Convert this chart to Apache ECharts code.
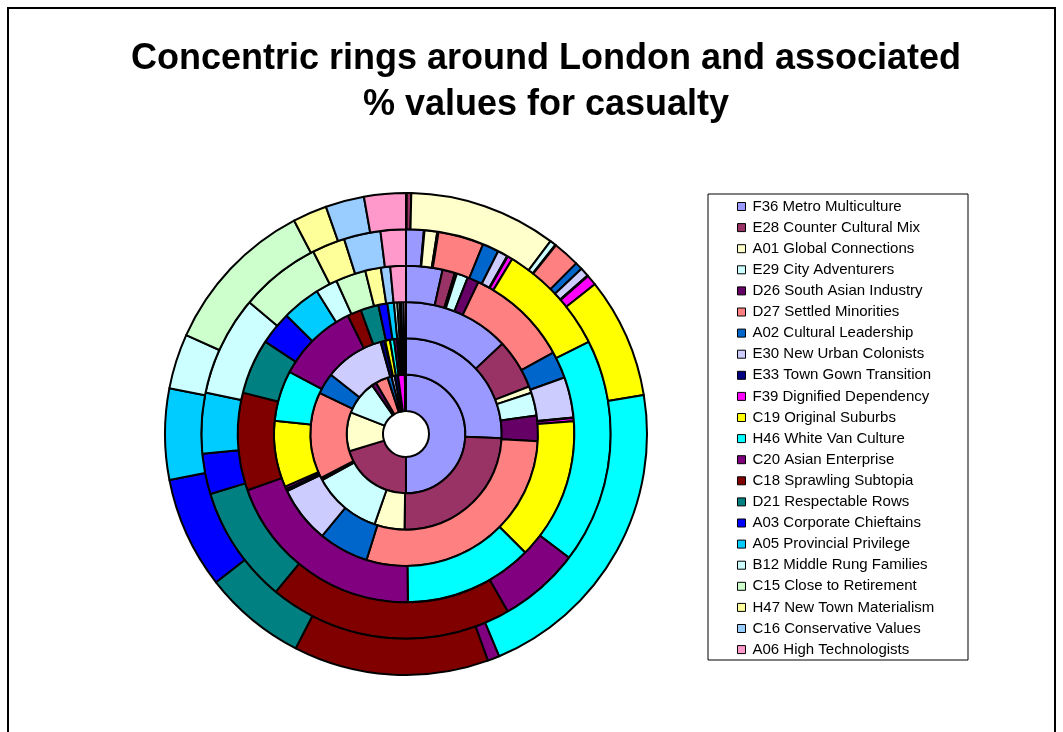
<!DOCTYPE html>
<html>
<head>
<meta charset="utf-8">
<script src="https://cdn.jsdelivr.net/npm/echarts@6/dist/echarts.min.js"></script>
<style>
  html, body { margin: 0; padding: 0; background: #fff; }
  #chart { width: 1063px; height: 732px; }
</style>
</head>
<body>
<div id="chart"></div>
<script>
// Categories in legend order (clockwise from 12 o'clock in each ring)
const categories = [
  "F36 Metro Multiculture", "E28 Counter Cultural Mix", "A01 Global Connections",
  "E29 City Adventurers", "D26 South Asian Industry", "D27 Settled Minorities",
  "A02 Cultural Leadership", "E30 New Urban Colonists", "E33 Town Gown Transition",
  "F39 Dignified Dependency", "C19 Original Suburbs", "H46 White Van Culture",
  "C20 Asian Enterprise", "C18 Sprawling Subtopia", "D21 Respectable Rows",
  "A03 Corporate Chieftains", "A05 Provincial Privilege", "B12 Middle Rung Families",
  "C15 Close to Retirement", "H47 New Town Materialism", "C16 Conservative Values",
  "A06 High Technologists"
];

const colors = [
  "#9999FF", "#993366", "#FFFFCC", "#CCFFFF", "#660066", "#FF8080",
  "#0066CC", "#CCCCFF", "#000080", "#FF00FF", "#FFFF00", "#00FFFF",
  "#800080", "#800000", "#008080", "#0000FF", "#00CCFF", "#CCFFFF",
  "#CCFFCC", "#FFFF99", "#99CCFF", "#FF99CC"
];

// % values per concentric ring (ring1 = innermost)
const ring1 = [50.0, 20.3, 10.6, 9.4, 1.25, 3.4, 1.1, 0.85, 0.9, 1.85, 0.05, 0.05, 0.03, 0.03, 0.03, 0.03, 0.03, 0.02, 0.02, 0.01, 0.01, 0.01];
const ring2 = [25.8, 24.6, 5.1, 11.7, 0.4, 14.7, 3.6, 10.1, 0.7, 0.1, 0.8, 0.7, 0.5, 0.3, 0.3, 0.3, 0.2, 0.1, 0.1, 0.05, 0.1, 0.05];
const ring3 = [13.0, 6.1, 0.8, 2.8, 3.1, 28.9, 6.1, 6.9, 0.3, 0.3, 8.1, 6.2, 9.9, 1.7, 2.2, 1.1, 0.8, 0.4, 0.3, 0.15, 0.3, 0.3];
const ring4 = [3.5, 1.2, 0.2, 1.1, 1.1, 9.9, 2.6, 3.9, 0.05, 0.3, 13.7, 12.4, 19.8, 9.4, 5.3, 3.2, 3.7, 2.1, 2.9, 1.5, 0.9, 1.5];
const ring5 = [1.4, 0.05, 1.0, 0.05, 0.05, 3.6, 1.3, 0.8, 0.05, 0.4, 8.9, 17.8, 6.4, 19.3, 9.3, 3.2, 4.8, 7.9, 6.4, 2.6, 2.9, 2.0];
const ring6 = [0.05, 0.3, 9.9, 0.4, 0.05, 1.8, 0.5, 0.6, 0.05, 0.7, 8.1, 21.3, 0.8, 13.1, 6.9, 7.5, 6.1, 3.7, 10.6, 2.3, 2.6, 2.8];

const rings = [ring1, ring2, ring3, ring4, ring5, ring6];
const radii = [23, 59.3, 95.7, 132, 168.3, 204.7, 241];

const chart = echarts.init(document.getElementById('chart'));

const series = rings.map((ring, i) => ({
  type: 'pie',
  name: 'Ring ' + (i + 1),
  center: [406, 434],
  radius: [radii[i], radii[i + 1]],
  startAngle: 90,
  clockwise: true,
  minAngle: 0,
  avoidLabelOverlap: false,
  silent: true,
  animation: false,
  label: { show: false },
  labelLine: { show: false },
  itemStyle: { borderColor: '#000', borderWidth: 2 },
  emphasis: { disabled: true },
  data: categories.map((n, j) => ({ name: n, value: ring[j], itemStyle: { color: colors[j] } }))
}));

chart.setOption({
  animation: false,
  backgroundColor: '#fff',
  title: {
    text: 'Concentric rings around London and associated\n% values for casualty',
    left: 541,
    top: 31,
    textAlign: 'center',
    textStyle: {
      fontFamily: 'Liberation Sans',
      fontWeight: 'bold',
      fontSize: 36,
      lineHeight: 46,
      color: '#000'
    }
  },
  legend: {
    orient: 'vertical',
    left: 737,
    top: 199,
    padding: 0,
    itemWidth: 8,
    itemHeight: 8,
    itemGap: 6.1,
    icon: 'rect',
    selectedMode: false,
    itemStyle: { borderColor: '#000', borderWidth: 1 },
    textStyle: { fontFamily: 'Liberation Sans', fontSize: 15, lineHeight: 15, color: '#000', padding: [0, 0, 0, 2] },
    data: categories
  },
  graphic: [
    { type: 'rect', z: -10, shape: { x: 8, y: 8, width: 1047, height: 800 }, style: { fill: 'none', stroke: '#000', lineWidth: 2 } },
    { type: 'rect', z: -9, shape: { x: 708, y: 194, width: 260, height: 466 }, style: { fill: '#fff', stroke: '#000', lineWidth: 1 } }
  ],
  series: series
});
</script>
</body>
</html>
